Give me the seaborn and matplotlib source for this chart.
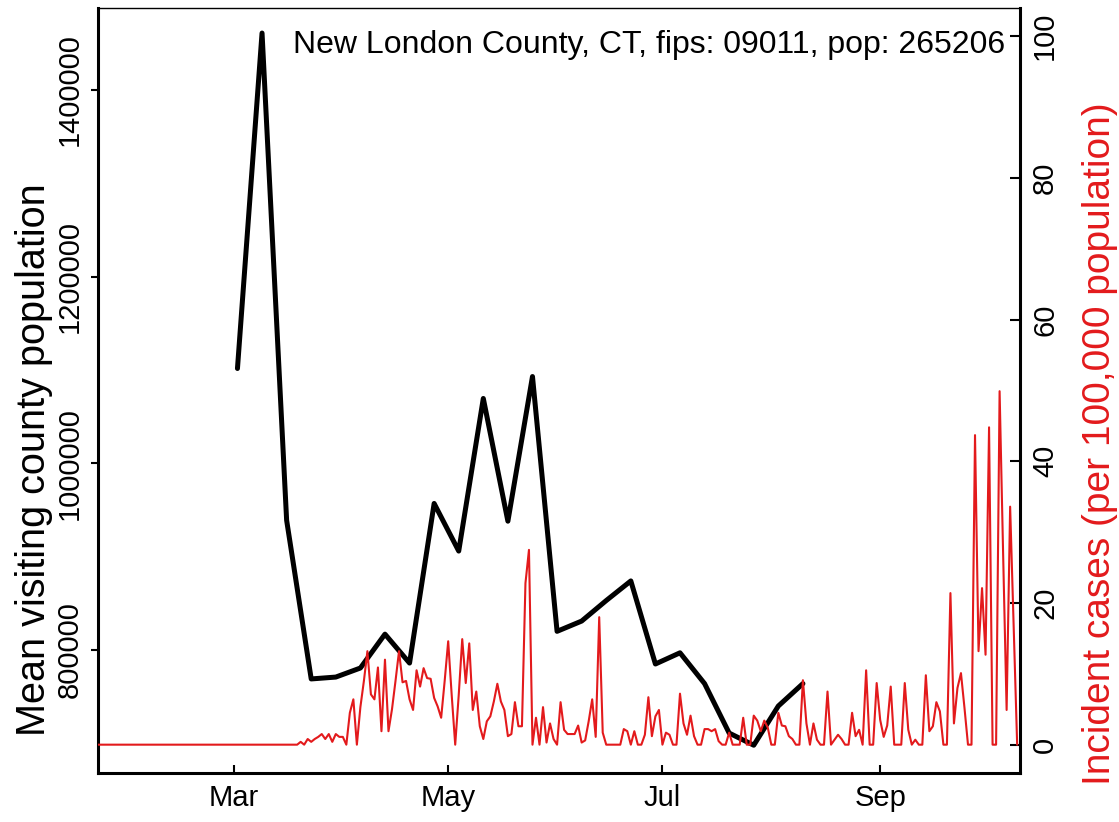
import matplotlib
matplotlib.use('Agg')
import matplotlib.pyplot as plt
import pandas as pd
import seaborn as sns

sns.set_style('ticks')
plt.rcParams['font.family'] = ['Liberation Sans', 'DejaVu Sans']
plt.rcParams.update({'text.color': 'black', 'axes.labelcolor': 'black',
                     'xtick.color': 'black', 'ytick.color': 'black',
                     'axes.edgecolor': 'black'})

county_label = 'New London County, CT, fips: 09011, pop: 265206'

# weekly mean visiting population, weeks starting 2020-03-02
week_start = '2020-03-02'
visitors = [1101600, 1461000, 939000, 769000, 771000, 780700, 817000, 786000,
            957000, 906000, 1069500, 938000, 1093000, 820000, 831000, 853000,
            874000, 785000, 797000, 764000, 711000, 698000, 740000, 764000]

# daily incident cases per 100,000, from 2020-01-22
case_start = '2020-01-22'
cases_jan_mar = [0] * 57
cases_mar_apr = [0, 0.4, 0, 0.8, 0.4, 0.8, 1.1, 1.5, 0.8, 1.5, 0.4, 1.5, 1.1, 1.1,
                 0, 4.5, 6.4, 0, 5.3, 9.0, 13.2, 7.1, 6.4, 10.9, 1.9, 12.0, 1.9,
                 5.0, 9.0, 13.2, 8.8, 9.0, 6.4, 4.9, 10.5, 8.2, 10.8, 9.4, 9.3,
                 6.6, 5.4, 3.8]
cases_apr_may = [9.0, 14.6, 7.0, 0, 7.0, 14.9, 8.7, 14.3, 4.9, 7.5, 2.6, 0.8,
                 3.3, 4.0, 6.1, 8.6, 6.1, 4.9, 1.2, 1.5, 6.0, 2.6, 2.6, 22.8,
                 27.5, 0, 3.8, 0, 5.3, 0.3, 3.0, 0.8, 0, 6.0, 2.1, 1.5, 1.5, 1.5,
                 2.7, 0.3, 0.6, 3.3, 6.4, 1.1, 18.0, 1.7, 0, 0, 0, 0, 0, 2.2, 1.9]
cases_jun_jul = [0, 1.9, 0, 0, 1.4, 6.7, 1.2, 4.0, 4.9, 0, 1.7, 1.4, 0, 0, 7.2,
                 3.0, 1.4, 4.1, 1.2, 0, 0, 2.2, 2.2, 1.9, 2.2, 0.5, 0, 0, 1.7, 0,
                 0, 0, 3.8, 0, 0, 4.1, 3.4, 1.9, 3.4, 2.4, 0, 0, 4.5, 2.7, 2.6,
                 1.2, 0.8, 0, 0, 9.1, 3.0, 0, 3.0, 0.7, 0, 0, 7.5, 0, 0.7, 1.4,
                 0.8, 0, 0, 4.5, 1.2, 2.1]
cases_aug_oct = [0, 10.5, 0, 0, 8.7, 3.5, 1.1, 2.7, 8.2, 0, 0, 0, 8.7, 2.1, 0,
                 0.7, 0, 0, 9.8, 1.9, 2.6, 6.0, 4.7, 0, 0, 21.4, 3.0, 8.0, 10.1,
                 5.2, 0, 0, 43.7, 13.2, 22.1, 12.7, 44.8, 0, 0, 49.9, 27.0, 4.9,
                 33.6, 17.0, 0]
cases = cases_jan_mar + cases_mar_apr + cases_apr_may + cases_jun_jul + cases_aug_oct

visit_df = pd.DataFrame({'date': pd.date_range(week_start, periods=len(visitors), freq='7D'),
                         'visitors': visitors})
case_df = pd.DataFrame({'date': pd.date_range(case_start, periods=len(cases), freq='D'),
                        'cases': cases})

red = '#e31a1c'
fs = 21

fig, ax = plt.subplots(figsize=(11.19, 8.22), dpi=100)
fig.subplots_adjust(left=0.0876, right=0.9115, bottom=0.0596, top=0.9903)
ax2 = ax.twinx()

sns.lineplot(visit_df, x='date', y='visitors', color='black', lw=3.6, ax=ax)
sns.lineplot(case_df, x='date', y='cases', color=red, lw=1.5, ax=ax2)

mar1 = pd.Timestamp('2020-03-01')
ax.set_xlim(mar1 + pd.Timedelta(days=-38.7), mar1 + pd.Timedelta(days=223.8))
ax.set_ylim(668214, 1487857)
ax2.set_ylim(-4, 104)

xt = pd.to_datetime(['2020-03-01', '2020-05-01', '2020-07-01', '2020-09-01'])
ax.set_xticks(xt)
ax.set_xticklabels(['Mar', 'May', 'Jul', 'Sep'])
ax.set_yticks([800000, 1000000, 1200000, 1400000])
ax.set_yticklabels(['800000', '1000000', '1200000', '1400000'])
ax2.set_yticks([0, 20, 40, 60, 80, 100])
ax2.set_yticklabels(['0', '20', '40', '60', '80', '100'])

ax.tick_params(axis='x', direction='in', length=6, width=1.5, labelsize=fs, pad=8)
ax.tick_params(axis='y', direction='out', length=5, width=1.5, labelsize=fs, pad=5,
               labelrotation=90)
ax2.tick_params(axis='y', direction='in', length=7, width=1.5, labelsize=fs, pad=8,
                labelrotation=90)
for lab in ax.get_yticklabels() + ax2.get_yticklabels():
    lab.set_verticalalignment('center')

ax.set_xlabel('')
ax.set_ylabel('Mean visiting county population', fontsize=28.5)
ax.yaxis.set_label_coords(-0.049, 0.41)
ax2.set_ylabel('Incident cases (per 100,000 population)', fontsize=28, color=red)
ax2.yaxis.set_label_coords(1.067, 0.43)

for side in ['left', 'bottom']:
    ax.spines[side].set_linewidth(2.2)
ax.spines['top'].set_linewidth(1.0)
ax.spines['right'].set_visible(False)
for side in ['left', 'bottom', 'top']:
    ax2.spines[side].set_visible(False)
ax2.spines['right'].set_linewidth(2.2)

ax.text(0.984, 0.9516, county_label, transform=ax.transAxes, ha='right', va='center',
        fontsize=23)

fig.savefig('out.png', dpi=100)
